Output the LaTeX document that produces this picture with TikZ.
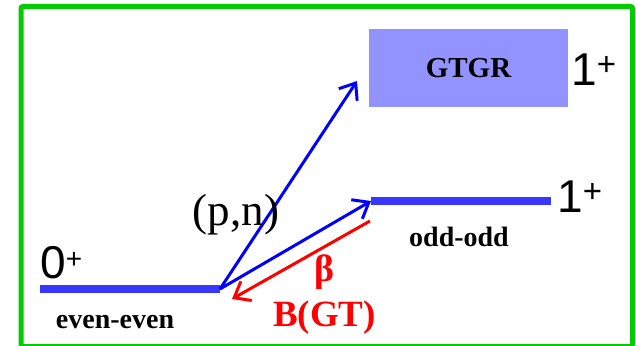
\documentclass[tikz,border=0pt]{standalone}
\usepackage{fontspec}
\setmainfont{Liberation Serif}
\setsansfont{Liberation Sans}
\usetikzlibrary{arrows.meta}
\definecolor{levelblue}{RGB}{55,55,255}
\definecolor{gtgrblue}{RGB}{147,147,255}
\definecolor{framegreen}{RGB}{0,204,0}
\newcommand{\parplus}[1]{\raisebox{9.5pt}{\fontsize{#1}{#1}\selectfont+}}
\tikzset{
  level/.style={levelblue,line width=8pt},
  spin/.style={font=\fontsize{46}{50}\selectfont\sffamily,inner sep=0pt,anchor=base west},
  nucl/.style={font=\fontsize{28}{30}\selectfont\bfseries,inner sep=0pt,anchor=base},
  trans/.style={line width=3pt,-{Straight Barb[length=14pt,width=22pt]}}
}
\begin{document}
\begin{tikzpicture}[x=1pt,y=-1pt]
      \useasboundingbox (0,0) rectangle (636,345);
      \draw[framegreen,line width=5pt,rounded corners=2pt] (21,6.5) rectangle (632.5,346.5);
      % levels
      \coordinate (gsL) at (40,289);
      \coordinate (gs) at (220,289);
      \coordinate (ooL) at (371,201);
      \coordinate (ooR) at (551,201);
      \draw[level] (gsL) -- (gs);
      \draw[level] (ooL) -- (ooR);
      \node[fill=gtgrblue,minimum width=199pt,minimum height=78pt,inner sep=0pt,
            font=\fontsize{29}{30}\selectfont\bfseries] (gtgr) at (468.5,68) {GTGR};
      \node[spin] (j0) at (40,278) {0\parplus{28}};
      \node[spin] (j1a) at (571,85) {1\parplus{33}};
      \node[spin] (j1b) at (557,212) {1\parplus{33}};
      \node[nucl] (ee) at (115,328) {even-even};
      \node[nucl] (oo) at (459,246) {odd-odd};
      % transitions
      \coordinate (gtgrIn) at (357,81);
      \coordinate (decTop) at (370,221);
      \coordinate (decEnd) at (232,299);
      \draw[trans,blue] (gs) -- (gtgrIn);
      \draw[trans,blue] (gs) -- (ooL);
      \draw[trans,red] (decTop) -- (decEnd);
      \node[font=\fontsize{45}{50}\selectfont,inner sep=0pt,anchor=base] (pn) at (236,225) {(p,n)};
      \node[red,font=\fontsize{38}{40}\selectfont\bfseries,inner sep=0pt,anchor=base] (beta) at (325,281) {β};
      \node[red,font=\fontsize{37}{40}\selectfont\bfseries,inner sep=0pt,anchor=base] (bgt) at (324.5,326) {B(GT)};
    \end{tikzpicture}
\end{document}
